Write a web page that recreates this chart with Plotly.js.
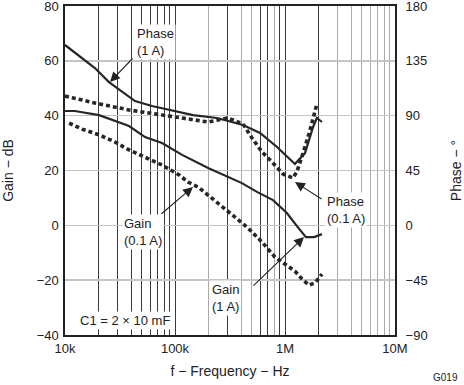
<!DOCTYPE html>
<html>
<head>
<meta charset="utf-8">
<script src="https://cdn.plot.ly/plotly-3.0.1.min.js"></script>
<style>html,body{margin:0;padding:0;background:#fff;}#chart{width:464px;height:385px;}</style>
</head>
<body>
<div id="chart"></div>
<script>
// ---- Data ----
// Phase, 1 A (degrees, right axis)
const phase1AFreq = [10000, 18700, 25100, 33000, 43300, 61800, 95900, 146000, 241000, 415000, 593000, 846000, 1230000, 1520000, 1800000, 1950000, 2170000];
const phase1AVal  = [148.0, 129.1, 117.6, 109.4, 102.0, 97.9, 93.8, 90.5, 88.1, 82.3, 75.8, 64.3, 50.3, 59.3, 80.7, 88.1, 84.8];
// Phase, 0.1 A (degrees, right axis)
const phase01AFreq = [10000, 18700, 38200, 76200, 118000, 200000, 303000, 415000, 501000, 618000, 762000, 959000, 1180000, 1280000, 1460000, 1690000, 1950000];
const phase01AVal  = [106.1, 100.4, 94.7, 90.5, 88.1, 84.8, 88.1, 83.2, 71.7, 60.2, 52.0, 42.1, 38.9, 43.8, 59.3, 78.2, 99.6];
// Gain, 1 A (dB, left axis)
const gain1AFreq = [10000, 12300, 20400, 38200, 53400, 76200, 116000, 200000, 406000, 556000, 778000, 1040000, 1280000, 1550000, 1840000, 2170000];
const gain1AVal  = [41.7, 41.7, 40.2, 36.2, 32.2, 30.0, 25.7, 20.9, 15.4, 12.2, 9.2, 4.5, -0.2, -4.3, -4.3, -3.2];
// Gain, 0.1 A (dB, left axis)
const gain01AFreq = [10900, 14300, 20400, 28500, 38200, 53400, 76200, 109000, 131000, 162000, 200000, 267000, 351000, 461000, 618000, 811000, 1000000, 1230000, 1430000, 1650000, 1870000, 2170000];
const gain01AVal  = [37.3, 35.1, 33.0, 30.4, 27.5, 24.9, 22.0, 18.4, 15.8, 14.0, 11.1, 6.7, 3.0, -1.0, -6.1, -11.6, -14.1, -16.7, -19.6, -21.8, -21.0, -17.8];

// Tick labels
const xDarkTicks = [1e4, 2e4, 3e4, 4e4, 5e4, 6e4, 7e4, 8e4, 9e4, 1e5, 3e5, 6e5, 7e5, 9e5, 1e6, 2e6, 1e7];
const xTickLabels = ['10k', '', '', '', '', '', '', '', '', '100k', '', '', '', '', '1M', '', '10M'];
const xLightTicks = [2e5, 4e5, 5e5, 8e5, 3e6, 4e6, 5e6, 6e6, 7e6, 8e6, 9e6];
const gainTicks = [-40, -20, 0, 20, 40, 60, 80];
const phaseTicks = [-90, -45, 0, 45, 90, 135, 180];

// ---- Helpers: pixel -> data for annotation placement ----
const PL = 65, PR = 395, PT = 6, PB = 335;
const px2x = px => 4 + (px - PL) / ((PR - PL) / 3);
const py2y = py => 80 - (py - PT) / ((PB - PT) / 120);

const FONT = 'Liberation Sans, Arial, sans-serif';
const TXT = '#222';
const LINE = '#262626';

const traces = [
  {x: phase1AFreq, y: phase1AVal, yaxis: 'y2', mode: 'lines', name: 'Phase (1 A)',
   line: {color: LINE, width: 2.2}},
  {x: phase01AFreq, y: phase01AVal, yaxis: 'y2', mode: 'lines', name: 'Phase (0.1 A)',
   line: {color: LINE, width: 3.6, dash: '4px,3px'}},
  {x: gain1AFreq, y: gain1AVal, mode: 'lines', name: 'Gain (1 A)',
   line: {color: LINE, width: 2.2}},
  {x: gain01AFreq, y: gain01AVal, mode: 'lines', name: 'Gain (0.1 A)',
   line: {color: LINE, width: 3.6, dash: '4px,3px'}}
];

function label(text, left, cy) {
  return {text: text, xref: 'x', yref: 'y', x: px2x(left), y: py2y(cy),
    xanchor: 'left', yanchor: 'middle', align: 'left', showarrow: false,
    bgcolor: '#fff', borderpad: 1, font: {family: FONT, size: 13, color: TXT}};
}
function arrow(tailX, tailY, headX, headY) {
  return {text: '', xref: 'x', yref: 'y', x: px2x(headX), y: py2y(headY),
    ax: tailX - headX, ay: tailY - headY, showarrow: true,
    arrowhead: 2, arrowsize: 1.8, arrowwidth: 1.1, arrowcolor: '#222', standoff: 0};
}

const annotations = [
  arrow(134, 57, 110, 82),
  arrow(323, 200, 295, 182),
  arrow(252, 287, 304, 237),
  arrow(160, 215, 193, 187),
  label('Phase<br>(1 A)', 135, 41.5),
  label('Phase<br>(0.1 A)', 325, 209.5),
  label('Gain<br>(1 A)', 210, 298),
  label('Gain<br>(0.1 A)', 122, 231.5),
  label('C1 = 2 × 10 mF', 78, 320),
  {text: 'G019', xref: 'paper', yref: 'paper', x: 1.197, y: -0.128, xanchor: 'right', yanchor: 'middle',
   showarrow: false, font: {family: FONT, size: 10, color: TXT}}
];

const layout = {
  width: 464, height: 385,
  margin: {l: 65, r: 69, t: 6, b: 50, pad: 0},
  paper_bgcolor: '#fff', plot_bgcolor: '#fff',
  showlegend: false,
  font: {family: FONT, size: 13, color: TXT},
  xaxis: {
    type: 'log', range: [4, 7],
    tickmode: 'array', tickvals: xDarkTicks, ticktext: xTickLabels,
    ticks: 'outside', ticklen: 1, tickcolor: 'rgba(0,0,0,0)',
    showgrid: true, gridcolor: '#3a3a3a', gridwidth: 1,
    minor: {tickmode: 'array', tickvals: xLightTicks, showgrid: true, gridcolor: '#aaaaaa', gridwidth: 1, ticks: ''},
    showline: true, mirror: true, linecolor: '#222', linewidth: 1.6,
    zeroline: false, ticklabeloverflow: 'allow',
    tickfont: {family: FONT, size: 13, color: TXT},
    title: {text: 'f − Frequency − Hz', font: {family: FONT, size: 14, color: TXT}, standoff: 11}
  },
  yaxis: {
    range: [-40, 80], tickmode: 'array', tickvals: gainTicks,
    ticks: 'outside', ticklen: 2, tickcolor: 'rgba(0,0,0,0)',
    showgrid: true, gridcolor: '#c4c4c4', gridwidth: 1.6,
    showline: true, mirror: true, linecolor: '#222', linewidth: 1.6,
    zeroline: false, ticklabeloverflow: 'allow',
    tickfont: {family: FONT, size: 13, color: TXT},
    title: {text: 'Gain − dB', font: {family: FONT, size: 14, color: TXT}, standoff: 27}
  },
  yaxis2: {
    overlaying: 'y', side: 'right', range: [-90, 180],
    tickmode: 'array', tickvals: phaseTicks,
    ticks: 'outside', ticklen: 7, tickcolor: 'rgba(0,0,0,0)',
    showgrid: false, showline: false, zeroline: false, ticklabeloverflow: 'allow',
    tickfont: {family: FONT, size: 13, color: TXT},
    title: {text: 'Phase − °', font: {family: FONT, size: 14, color: TXT}, standoff: 24}
  },
  annotations: annotations
};

Plotly.newPlot('chart', traces, layout, {staticPlot: true, displayModeBar: false});
</script>
</body>
</html>
